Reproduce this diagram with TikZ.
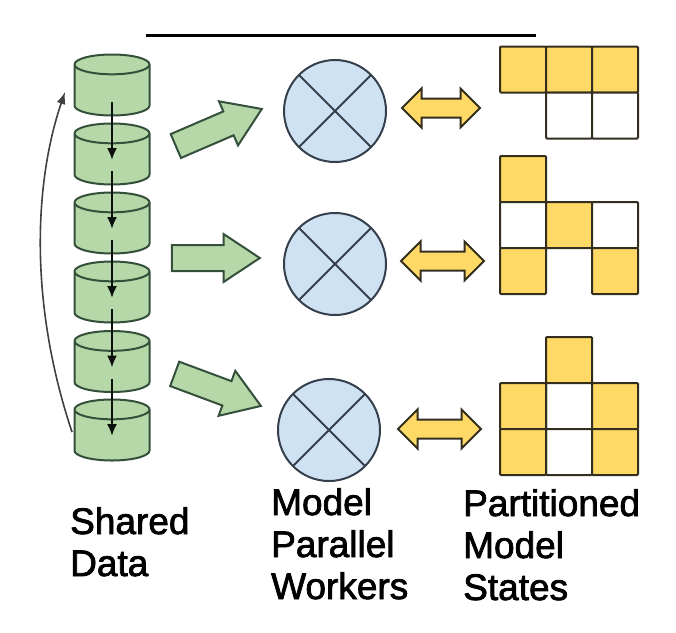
\documentclass[tikz,border=0pt]{standalone}
\usepackage{fontspec}
\setmainfont{Liberation Sans}
\newfontfamily\captionfont[FakeBold=2]{Liberation Sans}
\usetikzlibrary{positioning,shapes.geometric,shapes.arrows,arrows.meta}
\definecolor{datagreen}{HTML}{B6D7A8}
\definecolor{dataline}{HTML}{34503A}
\definecolor{workerblue}{HTML}{CFE2F3}
\definecolor{workerline}{HTML}{36404C}
\definecolor{stateyellow}{HTML}{FFD966}
\definecolor{stateline}{HTML}{332E1E}
\begin{document}
\begin{tikzpicture}[x=1pt, y=-1pt, node distance=0pt,
    datadisk/.style = {draw=dataline, line width=2pt, fill=datagreen, cylinder, shape border rotate=90, shape aspect=0.55, minimum height=61pt, minimum width=75pt, inner sep=18pt, outer sep=0pt, anchor=shape center},
    flow/.style = {draw=dataline, line width=2pt, fill=datagreen, single arrow, single arrow head extend=11pt, single arrow tip angle=67, minimum width=46pt, inner xsep=0pt, inner ysep=12pt, outer sep=0pt},
    swap/.style = {draw=stateline, line width=2pt, fill=stateyellow, double arrow, double arrow head extend=10pt, double arrow tip angle=90, minimum width=37pt, inner xsep=0pt, inner ysep=8.5pt, outer sep=0pt},
    worker/.style = {draw=workerline, line width=2pt, fill=workerblue, circle, minimum size=102pt, inner sep=0pt, outer sep=0pt},
    yellowcell/.style = {draw=stateline, line width=2pt, fill=stateyellow, rectangle, rounded corners=1pt, minimum size=46pt, inner sep=0pt, outer sep=0pt},
    whitecell/.style = {yellowcell, fill=white},
    caption/.style = {align=left, anchor=north west, inner sep=0pt, font=\captionfont\fontsize{37}{42}\selectfont}]
    \useasboundingbox (0,0) rectangle (676,632);
    \coordinate (ruleleft) at (146,35);
    \coordinate (ruleright) at (536,35);
    \draw[line width=3pt] (ruleleft) -- (ruleright);

    \node[datadisk] (d1) at (112,85) {};
    \node[datadisk] (d2) at (112,154) {};
    \node[datadisk] (d3) at (112,223) {};
    \node[datadisk] (d4) at (112,292) {};
    \node[datadisk] (d5) at (112,361.5) {};
    \node[datadisk] (d6) at (112,430) {};
    \foreach \a/\b in {d1/d2, d2/d3, d3/d4, d4/d5, d5/d6}
        \draw[draw=black!80!dataline, line width=2pt, -{Latex[length=12pt,width=10pt]}] ([yshift=-17pt]\a.shape center) -- ([yshift=-6pt]\b.shape center);
    \coordinate (loopstart) at (72,432);
    \coordinate (loopend) at (65,92);
    \draw[line width=1.6pt, draw=black!75, -{Latex[length=12pt,width=9pt]}] (loopstart) .. controls (28,300) and (35,180) .. (loopend);

    \node[flow, minimum height=93.6pt, rotate=23.3] (f1) at (209.8,131.4) {};
    \node[flow, minimum height=88pt] (f2) at (206,258) {};
    \node[flow, minimum height=92pt, rotate=-20.4] (f3) at (208.6,386.5) {};

    \node[worker] (w1) at (335,111) {};
    \node[worker] (w2) at (335,264) {};
    \node[worker] (w3) at (329,430) {};
    \foreach \w in {w1, w2, w3} {
        \draw[draw=workerline, line width=2pt] (\w.north west) -- (\w.south east);
        \draw[draw=workerline, line width=2pt] (\w.north east) -- (\w.south west);
    }

    \node[swap, minimum height=78pt] (s1) at (441,108) {};
    \node[swap, minimum height=83pt] (s2) at (442.5,261) {};
    \node[swap, minimum height=83pt] (s3) at (439.5,429) {};

    \node[yellowcell] (a1) at (523,69.5) {};
    \node[yellowcell] (a2) [right=of a1] {};
    \node[yellowcell] (a3) [right=of a2] {};
    \node[whitecell] (a4) [below=of a2] {};
    \node[whitecell] (a5) [below=of a3] {};

    \node[yellowcell] (b1) at (523,179) {};
    \node[whitecell] (b2) [below=of b1] {};
    \node[yellowcell] (b3) [right=of b2] {};
    \node[whitecell] (b4) [right=of b3] {};
    \node[yellowcell] (b5) [below=of b2] {};
    \node[yellowcell] (b6) [below=of b4] {};

    \node[yellowcell] (c1) at (569,360) {};
    \node[whitecell] (c2) [below=of c1] {};
    \node[yellowcell] (c3) [left=of c2] {};
    \node[yellowcell] (c4) [right=of c2] {};
    \node[whitecell] (c5) [below=of c2] {};
    \node[yellowcell] (c6) [left=of c5] {};
    \node[yellowcell] (c7) [right=of c5] {};

    \node[caption] (shared) at (70,507) {Shared\\Data};
    \node[caption] (model) at (271,488) {Model\\Parallel\\Workers};
    \node[caption] (states) at (463,489) {Partitioned\\Model\\States};
\end{tikzpicture}
\end{document}
